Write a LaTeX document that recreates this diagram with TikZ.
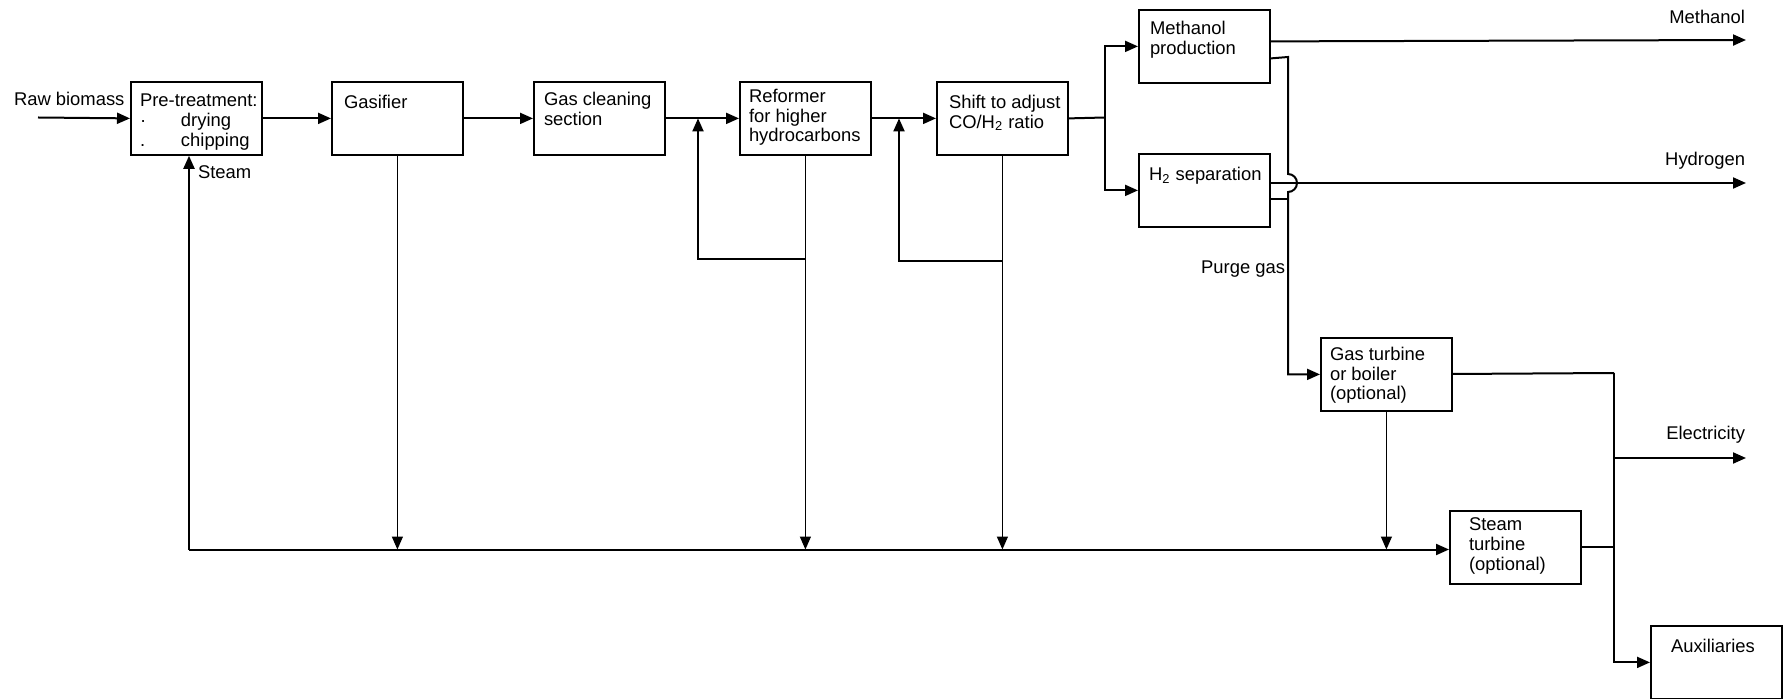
\documentclass[tikz,border=0pt]{standalone}
\usepackage{fontspec}
\setmainfont{Liberation Sans}
\usetikzlibrary{arrows.meta}

\begin{document}
\begin{tikzpicture}[x=0.5pt, y=-0.5pt, line width=1pt,
        >={Triangle[length=6.5pt, width=5.5pt]},
        unit/.style={draw, line width=0.9pt, anchor=north west, minimum width=65.5pt, minimum height=36.5pt, inner sep=0pt},
        txt/.style={anchor=north west, inner sep=0pt, align=left, font=\fontsize{9.2}{9.9}\selectfont},
        lbl/.style={inner sep=0pt, font=\fontsize{9.2}{9.9}\selectfont},
        drop/.style={line width=0.7pt}]
        \useasboundingbox (0,0) rectangle (1786,699);

        % process units
        \node[unit] (pre) at (130,81) {};
        \node[unit] (gasif) at (331,81) {};
        \node[unit] (clean) at (533,81) {};
        \node[unit] (reform) at (739,81) {};
        \node[unit] (shift) at (936,81) {};
        \node[unit] (meoh) at (1138,9) {};
        \node[unit] (hsep) at (1138,153) {};
        \node[unit] (gturb) at (1320,337) {};
        \node[unit] (sturb) at (1449,510) {};
        \node[unit] (aux) at (1650,625) {};

        \node[txt] (pre-t) at ([shift={(9,12)}]pre.north west) {Pre-treatment:\\\makebox[20.5pt][l]{·}drying\\\makebox[20.5pt][l]{.}chipping};
        \node[txt] (gasif-t) at ([shift={(12,13)}]gasif.north west) {Gasifier};
        \node[txt] (clean-t) at ([shift={(10,10)}]clean.north west) {Gas cleaning\\section};
        \node[txt] (reform-t) at ([shift={(9,7)}]reform.north west) {Reformer\\for higher\\hydrocarbons};
        \node[txt] (shift-t) at ([shift={(12,13)}]shift.north west) {Shift to adjust\\CO/H\textsubscript{2} ratio};
        \node[txt] (meoh-t) at ([shift={(11,11)}]meoh.north west) {Methanol\\production};
        \node[txt] (hsep-t) at ([shift={(10,13)}]hsep.north west) {H\textsubscript{2} separation};
        \node[txt] (gturb-t) at ([shift={(9,9)}]gturb.north west) {Gas turbine\\or boiler\\(optional)};
        \node[txt] (sturb-t) at ([shift={(19,7)}]sturb.north west) {Steam\\turbine\\(optional)};
        \node[txt] (aux-t) at ([shift={(20,13)}]aux.north west) {Auxiliaries};

        % main line
        \coordinate (raw) at (38,117.5);
        \node[lbl, anchor=west] (raw-l) at (13,99) {Raw biomass};
        \draw[->] (raw) -- (pre.west);
        \draw[->] (pre) -- (gasif);
        \draw[->] (gasif) -- (clean);
        \draw[->] (clean) -- (reform);
        \draw[->] (reform) -- (shift);

        \coordinate (br) at (1105,117.5);
        \draw (shift.east) -- (br);
        \draw[->] (br) |- (meoh);
        \draw[->] (br) |- (hsep);

        % recycle loops
        \coordinate (lp1) at (698,259);
        \coordinate (lp2) at (899,261);
        \draw[->] (reform.south |- lp1) -- (lp1) -- (lp1 |- clean.east);
        \draw[->] (shift.south |- lp2) -- (lp2) -- (lp2 |- reform.east);

        % steam collector
        \coordinate (st) at (189,549.5);
        \node[lbl, anchor=west] (steam-l) at (197,172) {Steam};
        \draw[->] (st) -- (st |- pre.south);
        \draw[->] (st) -- (st -| sturb.west);
        \foreach \n in {gasif, reform, shift, gturb}
            \draw[drop, ->] (\n.south) -- (\n.south |- st);

        % products
        \draw[->] ([yshift=2.5pt]meoh.east) -- (1746,40);
        \node[lbl, anchor=east] (meoh-l) at (1746,17) {Methanol};
        \draw[->] (hsep.east |- 0,183) -- (1746,183);
        \node[lbl, anchor=east] (h2-l) at (1746,161) {Hydrogen};

        % purge gas
        \draw[->] ([yshift=-6pt]meoh.east) -- (1288,57) -- (1288,174)
            arc[start angle=90, end angle=-90, radius=4.5pt] |- (gturb.west);
        \draw (hsep.east |- 0,199) -- (1288,199);
        \node[lbl, anchor=east] (purge-l) at (1286,269) {Purge gas};

        % power
        \coordinate (eb) at (1614,373);
        \draw (gturb) -- (eb);
        \draw[->] (eb) |- (aux);
        \draw (sturb) -- (sturb -| eb);
        \draw[->] (eb |- 0,458) -- (1746,458);
        \node[lbl, anchor=east] (el-l) at (1746,435) {Electricity};
\end{tikzpicture}
\end{document}
